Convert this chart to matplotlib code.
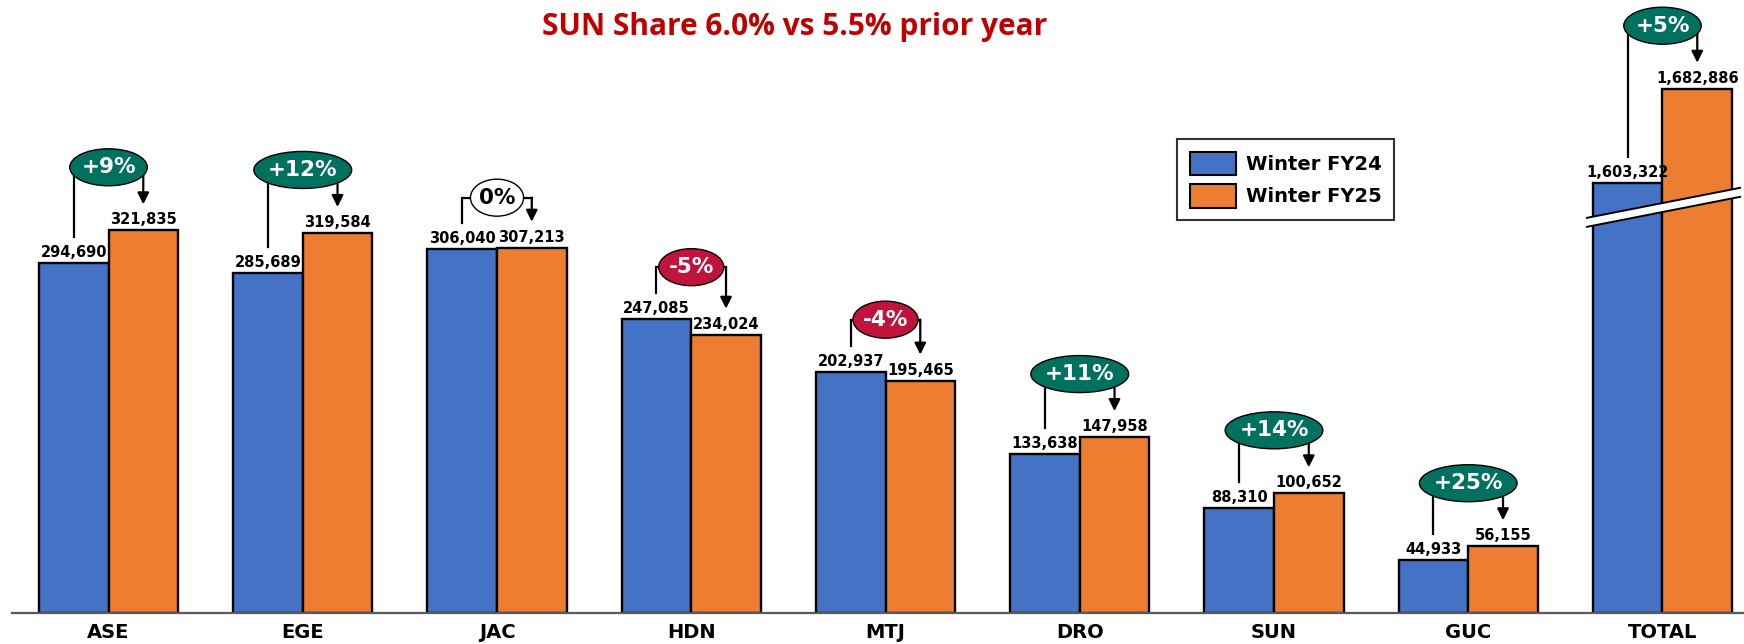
import matplotlib.pyplot as plt
from matplotlib.patches import Ellipse, Patch, Polygon

# data
categories = ["ASE", "EGE", "JAC", "HDN", "MTJ", "DRO", "SUN", "GUC", "TOTAL"]
winter_fy24 = [294690, 285689, 306040, 247085, 202937, 133638, 88310, 44933, 1603322]
winter_fy25 = [321835, 319584, 307213, 234024, 195465, 147958, 100652, 56155, 1682886]
series_names = ["Winter FY24", "Winter FY25"]
title = "SUN Share 6.0% vs 5.5% prior year"

# the TOTAL bars are drawn on a broken axis
total_cut = 1242000

BLUE = "#4472C4"
ORANGE = "#ED7D31"
GREEN = "#00705F"
RED = "#C0143C"

W, H = 1744, 644
base_px = 31
fig = plt.figure(figsize=(W / 100, H / 100), dpi=100)
ax = fig.add_axes([0, base_px / H, 1, (H - base_px) / H])
ymax = 515500
ax.set_xlim(-0.5586, 8.4196)
ax.set_ylim(0, ymax)
ax.axis("off")

ypx = ymax / (H - base_px)          # data units per pixel (y)
xpx = (8.4196 + 0.5586) / W          # data units per pixel (x)

bw = 0.358
xs = list(range(len(categories)))
shown24 = [v if c != "TOTAL" else v - total_cut for c, v in zip(categories, winter_fy24)]
shown25 = [v if c != "TOTAL" else v - total_cut for c, v in zip(categories, winter_fy25)]

ax.bar([x - bw / 2 for x in xs], shown24, bw, color=BLUE, edgecolor="black", linewidth=1.7, zorder=2)
ax.bar([x + bw / 2 for x in xs], shown25, bw, color=ORANGE, edgecolor="black", linewidth=1.7, zorder=2)

# baseline
ax.plot([-0.4968, 8.4196], [0, 0], color="#595959", linewidth=1.6, zorder=3, clip_on=False)

# axis break on TOTAL
ti = len(categories) - 1
bx0 = xs[ti] - bw - 6 * xpx
bx1 = xs[ti] + bw + 8 * xpx
by0 = shown24[ti] - 39 * ypx
by1 = shown24[ti] - 9 * ypx
hh = 4.5 * ypx
ax.add_patch(Polygon([(bx0, by0 - hh), (bx1, by1 - hh), (bx1, by1 + hh), (bx0, by0 + hh)],
                     closed=True, facecolor="white", edgecolor="none", zorder=4, clip_on=False))
ax.plot([bx0, bx1], [by0 - hh, by1 - hh], color="black", linewidth=1.4, zorder=5, clip_on=False)
ax.plot([bx0, bx1], [by0 + hh, by1 + hh], color="black", linewidth=1.4, zorder=5, clip_on=False)

lab_font = dict(family="DejaVu Sans", fontweight="bold", fontsize=10.5)
renderer = fig.canvas.get_renderer()

for i, cat in enumerate(categories):
    xb = xs[i] - bw / 2
    xo = xs[i] + bw / 2
    hb = shown24[i]
    ho = shown25[i]
    ax.text(xb, hb + 3 * ypx, f"{winter_fy24[i]:,}", ha="center", va="bottom", zorder=6, **lab_font)
    ax.text(xo, ho + 3 * ypx, f"{winter_fy25[i]:,}", ha="center", va="bottom", zorder=6, **lab_font)

    ax.text(xs[i], -19 * ypx, cat, ha="center", va="center", family="DejaVu Sans",
            fontweight="bold", fontsize=14, clip_on=False)

    pct = round((winter_fy25[i] / winter_fy24[i] - 1) * 100)
    label = f"{pct:+d}%" if pct != 0 else "0%"
    if pct > 0:
        fc, tc, off = GREEN, "white", 63
    elif pct < 0:
        fc, tc, off = RED, "white", 52
    else:
        fc, tc, off = "white", "black", 50
    yb = max(hb, ho) + off * ypx

    # bracket from blue label up to badge, then arrow down to orange label
    ax.plot([xb, xb, xo, xo], [hb + 26 * ypx, yb, yb, yb - 1 * ypx],
            color="black", linewidth=1.6, zorder=3, solid_joinstyle="miter")
    ax.annotate("", xy=(xo, ho + 26 * ypx), xytext=(xo, yb),
                arrowprops=dict(arrowstyle="-|>", color="black", lw=1.6,
                                mutation_scale=17, shrinkA=0, shrinkB=0), zorder=3)

    t = ax.text(xs[i], yb, label, ha="center", va="center", color=tc, family="DejaVu Sans",
                fontweight="bold", fontsize=15.5, zorder=8)
    tw = t.get_window_extent(renderer).width
    ax.add_patch(Ellipse((xs[i], yb), (tw * 1.35 + 4) * xpx, 37 * ypx, facecolor=fc,
                         edgecolor="black", linewidth=1.0, zorder=7))

# legend
handles = [Patch(facecolor=BLUE, edgecolor="black", linewidth=1.5),
           Patch(facecolor=ORANGE, edgecolor="black", linewidth=1.5)]
leg = fig.legend(handles, series_names, loc="upper left",
                 bbox_to_anchor=(1177 / W, 1 - 139 / H), bbox_transform=fig.transFigure,
                 prop=dict(family="DejaVu Sans", weight="bold", size=14),
                 frameon=True, fancybox=False, edgecolor="black", borderaxespad=0,
                 handlelength=2.4, handleheight=1.45, labelspacing=0.5,
                 handletextpad=0.5, borderpad=0.65)
leg.get_frame().set_linewidth(1.5)

fig.text(795 / W, 1 - 27 / H, title, ha="center", va="center", color="#C00000",
         family="Open Sans", fontweight="bold", fontsize=21.5)

fig.savefig("out.png", dpi=100)
